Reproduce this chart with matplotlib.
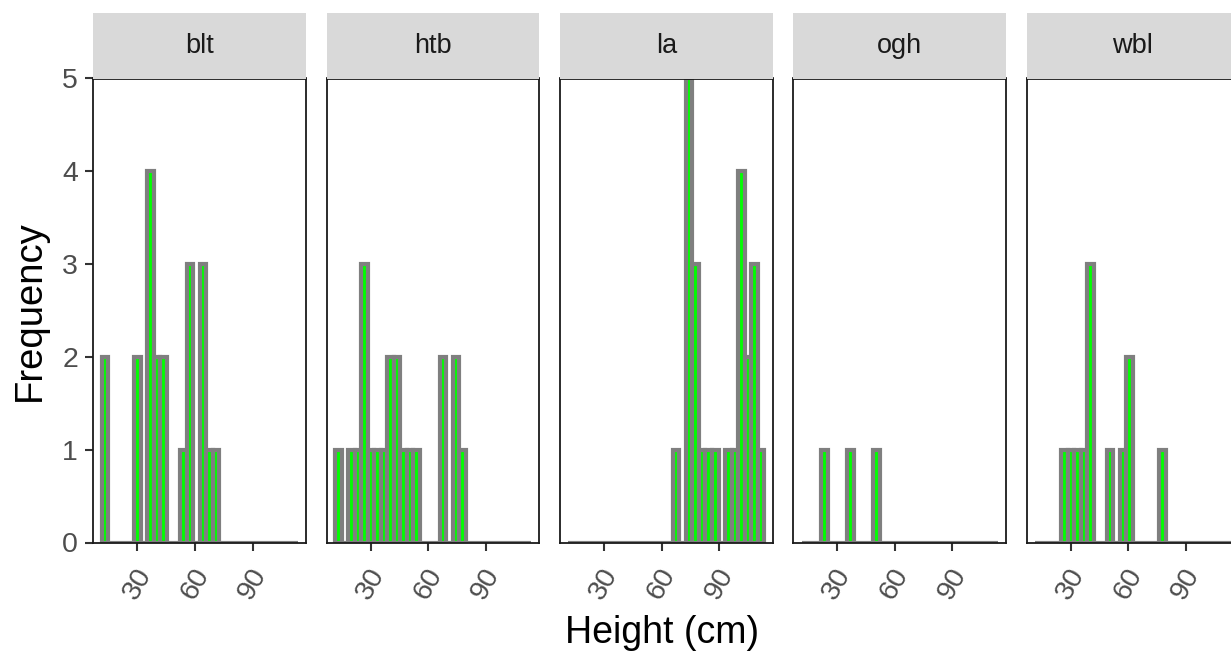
import numpy as np
import matplotlib
matplotlib.use("Agg")
import matplotlib.pyplot as plt

plt.rcParams['font.family'] = ['Liberation Sans', 'DejaVu Sans']

## データ
sites = ["blt", "htb", "la", "ogh", "wbl"]
# 30 bins, counts per bin for each site
blt_counts = [2, 0, 0, 0, 0, 2, 0, 4, 2, 2, 0, 0, 1, 3, 0, 3, 1, 1, 0, 0, 0, 0, 0, 0, 0, 0, 0, 0, 0, 0]
htb_counts = [1, 0, 1, 1, 3, 1, 1, 1, 2, 2, 1, 1, 1, 0, 0, 0, 2, 0, 2, 1, 0, 0, 0, 0, 0, 0, 0, 0, 0, 0]
la_counts = [0, 0, 0, 0, 0, 0, 0, 0, 0, 0, 0, 0, 0, 0, 0, 0, 1, 0, 5, 3, 1, 1, 1, 0, 1, 1, 4, 2, 3, 1]
ogh_counts = [0, 0, 0, 1, 0, 0, 0, 1, 0, 0, 0, 1, 0, 0, 0, 0, 0, 0, 0, 0, 0, 0, 0, 0, 0, 0, 0, 0, 0, 0]
wbl_counts = [0, 0, 0, 0, 1, 1, 1, 1, 3, 0, 0, 1, 0, 1, 2, 0, 0, 0, 0, 1, 0, 0, 0, 0, 0, 0, 0, 0, 0, 0]
all_counts = [blt_counts, htb_counts, la_counts, ogh_counts, wbl_counts]

bin_start = 11.47   # left edge of first bin (cm)
bin_width = 3.4     # cm
x_ticks = [30, 60, 90]
y_ticks = [0, 1, 2, 3, 4, 5]

## レイアウト (pixels)
W, H = 1231, 657
panel_left0 = 93.3
panel_step = 233.3
panel_w = 212.7
panel_top = 78.5
panel_bottom = 542.5
strip_top = 13

fig = plt.figure(figsize=(W / 100, H / 100), dpi=100)

for i, (site, counts) in enumerate(zip(sites, all_counts)):
    left = panel_left0 + i * panel_step
    ax = fig.add_axes([left / W, 1 - panel_bottom / H, panel_w / W, (panel_bottom - panel_top) / H])
    edges = bin_start + bin_width * np.arange(len(counts))
    ax.bar(edges, counts, width=bin_width, align="edge",
           color="#00FF00", edgecolor="#7F7F7F", linewidth=3.0)
    ax.set_xlim(7.1, 117.8)
    ax.set_ylim(0, 5)
    ax.set_xticks(x_ticks)
    ax.set_xticklabels([str(t) for t in x_ticks], rotation=60)
    ax.set_yticks(y_ticks)
    ax.tick_params(axis="both", length=6, width=1.5, color="#333333",
                   labelsize=20.5, labelcolor="#4D4D4D")
    ax.tick_params(axis="x", pad=9)
    ax.tick_params(axis="y", pad=5)
    if i > 0:
        ax.tick_params(axis="y", left=False, labelleft=False)
    for s in ax.spines.values():
        s.set_color("#1A1A1A")
        s.set_linewidth(1.3)

    # ストリップ
    strip = fig.add_axes([left / W, 1 - panel_top / H, panel_w / W, (panel_top - strip_top) / H])
    strip.set_facecolor("#D9D9D9")
    strip.set_xticks([])
    strip.set_yticks([])
    for s in strip.spines.values():
        s.set_visible(False)
    strip.text(0.5, 0.5, site, ha="center", va="center", fontsize=19.5,
               color="#1A1A1A", transform=strip.transAxes)

fig.text(30 / W, 1 - 310.5 / H, "Frequency", rotation=90, ha="center", va="center",
         fontsize=27.5, color="black")
fig.text(662 / W, 1 - 633 / H, "Height (cm)", ha="center", va="center",
         fontsize=27, color="black")

fig.savefig("out.png", dpi=100)
